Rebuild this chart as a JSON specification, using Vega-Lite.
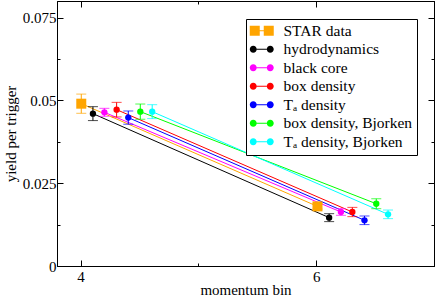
{
  "$schema": "https://vega.github.io/schema/vega-lite/v6.json",
  "width": 377,
  "height": 265,
  "autosize": {"type": "none"},
  "padding": {"left": 57, "top": 1, "right": 2, "bottom": 30},
  "background": "white",
  "config": {
    "view": {"stroke": "black", "strokeWidth": 1},
    "font": "Liberation Serif",
    "axis": {
      "grid": false,
      "domainColor": "black",
      "tickColor": "black",
      "labelColor": "black",
      "titleColor": "black",
      "labelFont": "Liberation Serif",
      "titleFont": "Liberation Serif",
      "labelFontSize": 15,
      "titleFontSize": 15,
      "titleFontWeight": "normal"
    },
    "legend": {
      "title": null,
      "orient": "none",
      "legendX": 189,
      "legendY": 18,
      "strokeColor": "black",
      "fillColor": "white",
      "padding": 4,
      "rowPadding": 1.5,
      "symbolSize": 64,
      "labelFont": "Liberation Serif",
      "labelFontSize": 15.5,
      "labelColor": "black",
      "labelOffset": 18,
      "labelLimit": 300
    }
  },
  "data": {
    "values": [
      {"series": "STAR data", "x": 4.006, "y": 0.049, "lo": 0.0461, "hi": 0.0519},
      {"series": "STAR data", "x": 6.011, "y": 0.018, "lo": 0.0172, "hi": 0.0188},
      {"series": "hydrodynamics", "x": 4.105, "y": 0.046, "lo": 0.0439, "hi": 0.0481},
      {"series": "hydrodynamics", "x": 6.11, "y": 0.0146, "lo": 0.0134, "hi": 0.0158},
      {"series": "black core", "x": 4.202, "y": 0.0464, "lo": 0.0452, "hi": 0.0476},
      {"series": "black core", "x": 6.21, "y": 0.0163, "lo": 0.0153, "hi": 0.0173},
      {"series": "box density", "x": 4.306, "y": 0.0472, "lo": 0.045, "hi": 0.0494},
      {"series": "box density", "x": 6.307, "y": 0.0163, "lo": 0.0149, "hi": 0.0177},
      {"series": "Tₐ density", "x": 4.405, "y": 0.0448, "lo": 0.0428, "hi": 0.0468},
      {"series": "Tₐ density", "x": 6.41, "y": 0.0138, "lo": 0.0125, "hi": 0.0151},
      {"series": "box density, Bjorken", "x": 4.507, "y": 0.0466, "lo": 0.0443, "hi": 0.0489},
      {"series": "box density, Bjorken", "x": 6.51, "y": 0.0188, "lo": 0.0173, "hi": 0.0203},
      {"series": "Tₐ density, Bjorken", "x": 4.608, "y": 0.0466, "lo": 0.0445, "hi": 0.0487},
      {"series": "Tₐ density, Bjorken", "x": 6.61, "y": 0.0156, "lo": 0.0143, "hi": 0.0169}
    ]
  },
  "layer": [
    {
      "encoding": {
        "x": {
          "field": "x", "type": "quantitative",
          "scale": {"domain": [3.8, 7.0], "nice": false, "zero": false},
          "axis": {
            "title": "momentum bin",
            "values": [4, 5, 6, 7],
            "labelExpr": "datum.value % 2 === 0 ? format(datum.value, 'd') : ''",
            "tickSize": {"condition": {"test": "datum.value % 2 === 0", "value": -6}, "value": -3},
            "labelPadding": 9,
            "titleBaseline": "alphabetic",
            "titleY": 28,
            "labelFlush": false
          }
        },
        "y": {
          "field": "y", "type": "quantitative",
          "scale": {"domain": [0, 0.08], "nice": false},
          "axis": {
            "title": "yield per trigger",
            "values": [0, 0.0125, 0.025, 0.0375, 0.05, 0.0625, 0.075],
            "labelExpr": "abs(datum.value*40 - round(datum.value*40)) < 0.000001 ? format(datum.value, '.3~f') : ''",
            "tickSize": {"condition": {"test": "abs(datum.value*40 - round(datum.value*40)) < 0.000001", "value": -6}, "value": -3},
            "labelPadding": 7,
            "titlePadding": 4,
            "labelFlush": false
          }
        },
        "color": {
          "field": "series", "type": "nominal",
          "scale": {
            "domain": ["STAR data", "hydrodynamics", "black core", "box density", "Tₐ density", "box density, Bjorken", "Tₐ density, Bjorken"],
            "range": ["#FFA500", "#000000", "#FF00FF", "#FF0000", "#0000FF", "#00FF00", "#00FFFF"]
          },
          "legend": {
            "encode": {
              "symbols": {
                "update": {
                  "shape": {"signal": "datum.value === 'STAR data' ? 'M-2,-1.25 L0.5,-1.25 L0.5,1.25 L-2,1.25 Z M1.5,-1.25 L4,-1.25 L4,1.25 L1.5,1.25 Z M0.5,-0.15 L1.5,-0.15 L1.5,0.15 L0.5,0.15 Z' : 'M-2,0 A0.875,0.875 0 1,0 -0.25,0 A0.875,0.875 0 1,0 -2,0 Z M2.25,0 A0.875,0.875 0 1,0 4,0 A0.875,0.875 0 1,0 2.25,0 Z M-0.25,-0.15 L2.25,-0.15 L2.25,0.15 L-0.25,0.15 Z'"},
                  "fill": {"scale": "color", "field": "value"},
                  "stroke": {"value": "transparent"},
                  "strokeWidth": {"value": 0},
                  "opacity": {"value": 1},
                  "size": {"value": 64}
                }
              },
              "labels": {
                "update": {
                  "font": {"value": "Liberation Serif"}
                }
              }
            }
          }
        }
      },
      "layer": [
        {"mark": {"type": "line", "strokeWidth": 1}, "encoding": {"detail": {"field": "series"}}},
        {"mark": {"type": "rule", "strokeWidth": 1}, "encoding": {"y": {"field": "lo", "type": "quantitative"}, "y2": {"field": "hi"}}},
        {"mark": {"type": "tick", "orient": "horizontal", "size": 10, "thickness": 1}, "encoding": {"y": {"field": "lo", "type": "quantitative"}}},
        {"mark": {"type": "tick", "orient": "horizontal", "size": 10, "thickness": 1}, "encoding": {"y": {"field": "hi", "type": "quantitative"}}},
        {
          "transform": [{"filter": "datum.series === 'STAR data'"}],
          "mark": {"type": "square", "filled": true, "opacity": 1, "size": 100}
        },
        {
          "transform": [{"filter": "datum.series !== 'STAR data'"}],
          "mark": {"type": "circle", "opacity": 1, "size": 40}
        }
      ]
    },
    {
      "mark": {"type": "point", "opacity": 0},
      "encoding": {
        "x": {
          "field": "x", "type": "quantitative",
          "scale": {"domain": [3.8, 7.0], "nice": false, "zero": false},
          "axis": {"orient": "top", "title": null, "labels": false, "values": [4, 5, 6, 7],
            "tickSize": {"condition": {"test": "datum.value % 2 === 0", "value": -6}, "value": -3}}
        },
        "y": {
          "field": "y", "type": "quantitative",
          "scale": {"domain": [0, 0.08], "nice": false},
          "axis": {"orient": "right", "title": null, "labels": false, "values": [0, 0.0125, 0.025, 0.0375, 0.05, 0.0625, 0.075],
            "tickSize": {"condition": {"test": "abs(datum.value*40 - round(datum.value*40)) < 0.000001", "value": -6}, "value": -3}}
        }
      }
    }
  ],
  "resolve": {"axis": {"x": "independent", "y": "independent"}}
}
